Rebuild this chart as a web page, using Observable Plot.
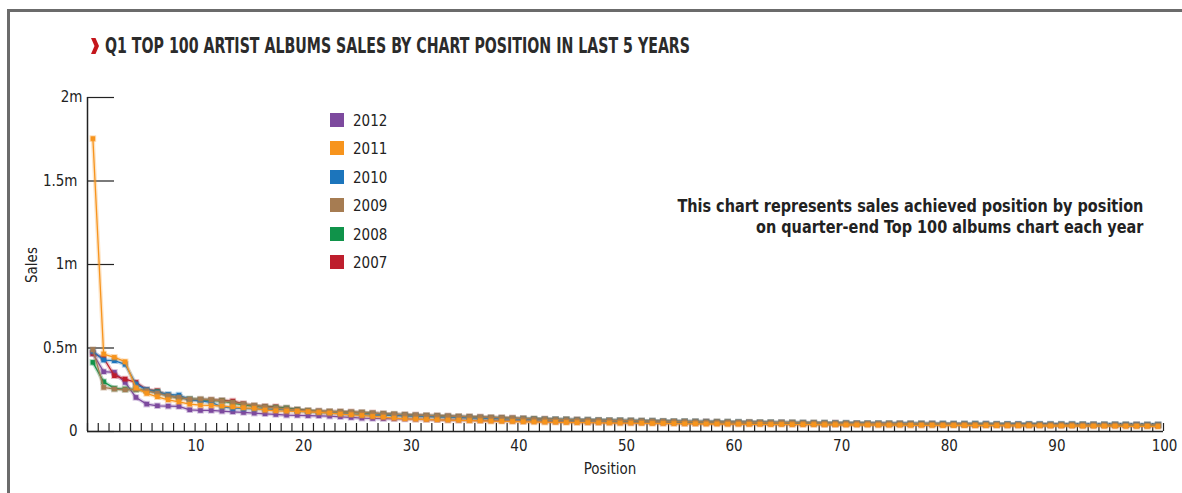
<!DOCTYPE html>
<html><head><meta charset="utf-8">
<script src="https://cdn.jsdelivr.net/npm/d3@7"></script>
<script src="https://cdn.jsdelivr.net/npm/@observablehq/plot@0.6"></script>
<style>
body{margin:0;background:#fff;width:1182px;height:493px;overflow:hidden;position:relative;font-family:"Liberation Sans Narrow","DejaVu Sans Condensed","Roboto Condensed",sans-serif;color:#222;}
#frame{position:absolute;left:7px;top:9px;width:1200px;height:520px;border-top:3px solid #6b6b6b;border-left:3px solid #6b6b6b;}
#chev{position:absolute;left:91px;top:38px;}
#title{position:absolute;left:105px;top:33px;font-weight:bold;font-size:22px;color:#2b2b2b;white-space:nowrap;transform-origin:0 50%;}
#chart{position:absolute;left:0;top:70px;}
#legend{position:absolute;left:330px;top:112px;font-size:15px;}
.row{height:28.4px;display:flex;align-items:flex-start;}
.sw{width:14px;height:14px;margin-right:9px;margin-top:1px;}
#note{position:absolute;right:39px;top:195px;text-align:right;font-weight:bold;font-size:18px;line-height:21px;color:#222;white-space:nowrap;transform-origin:100% 50%;}
#xlab{position:absolute;left:610px;top:460px;transform:translateX(-50%);font-size:15px;}
#ylab{position:absolute;left:32px;top:265px;transform:translate(-50%,-50%) rotate(-90deg);font-size:15px;}
</style></head>
<body>
<div id="frame"></div>
<svg id="chev" width="8" height="16" viewBox="0 0 8 16"><polygon points="0,0 4.5,0 8,8 4.5,16 0,16 3.5,8" fill="#c4161c"/></svg>
<div id="title">Q1 TOP 100 ARTIST ALBUMS SALES BY CHART POSITION IN LAST 5 YEARS</div>
<div id="chart"></div>
<div id="legend"></div>
<div id="note">This chart represents sales achieved position by position<br>on quarter-end Top 100 albums chart each year</div>
<div id="xlab">Position</div>
<div id="ylab">Sales</div>
<script>
// sales in thousands, positions 1..100
const years = ["2012","2011","2010","2009","2008","2007"];
const colors = ["#7d4a9e","#f7941d","#1c75bc","#a67c52","#10934a","#be1e2d"];
const drawOrder = ["2012","2007","2008","2010","2009","2011"];

const sales2011 = [1754,464,444,418,262,228,208,190,178,164,
158,156,152,148,142,138,128,124,122,120,
118,114,110,104,100,96,90,86,80,76,
74,72,70,68,67,65,64,62,61,60,
58,57,56,55,54,53,53,52,51,50,
50,49,48,48,47,46,46,45,45,44,
44,43,43,42,42,41,41,41,40,40,
39,39,39,38,38,38,37,37,37,36,
36,36,35,35,35,34,34,34,34,33,
33,33,32,32,32,32,31,31,31,30];
const sales2012 = [466,358,354,294,204,164,154,152,150,130,
126,126,122,118,114,110,106,102,98,97,
95,94,92,88,84,80,78,77,76,75,
74,72,70,69,68,67,66,65,64,63,
62,61,60,59,58,57,56,56,55,54,
53,53,52,51,51,50,50,49,49,48,
48,47,47,46,46,45,45,45,44,44,
43,43,43,42,42,42,41,41,41,40,
40,40,39,39,39,38,38,38,38,37,
37,37,37,36,36,36,36,35,35,35];
const sales2010 = [480,428,424,402,284,250,234,222,218,190,
184,174,148,140,138,136,134,132,128,124,
120,116,112,108,104,100,98,97,96,94,
92,90,88,86,84,82,80,78,76,75,
74,73,72,71,70,69,68,67,66,65,
64,63,62,61,60,60,59,58,57,56,
56,55,54,54,53,52,52,51,51,50,
50,49,49,49,48,48,48,47,47,47,
46,46,46,46,45,45,45,45,44,44,
44,44,43,43,43,43,42,42,42,42];
const sales2009 = [490,264,254,250,252,244,230,214,204,194,
194,190,184,174,164,156,148,142,136,128,
124,122,120,118,116,114,110,106,104,100,
98,96,94,92,90,88,86,84,82,80,
77,75,74,72,71,70,69,68,67,66,
65,64,63,62,61,60,59,58,58,57,
56,56,55,54,54,53,52,52,51,50,
50,49,49,48,48,47,47,46,46,45,
45,45,44,44,44,43,43,43,42,42,
42,42,41,41,41,41,40,40,40,40];
const sales2008 = [414,298,258,254,252,244,238,214,204,194,
190,186,184,170,160,152,146,144,140,130,
124,120,118,116,114,112,108,104,102,98,
96,94,92,90,88,86,84,82,80,78,
76,75,73,72,71,69,68,67,66,65,
64,63,62,61,60,59,58,57,57,56,
55,54,54,53,52,52,51,50,50,49,
49,48,48,47,47,46,46,46,45,45,
44,44,44,43,43,43,42,42,42,41,
41,41,41,40,40,40,40,39,39,39];
const sales2007 = [468,440,334,314,294,250,244,214,204,192,
190,188,186,182,166,154,150,148,140,132,
126,122,120,118,116,113,110,106,103,100,
98,96,94,92,90,88,86,84,82,80,
77,75,74,72,71,70,68,67,66,65,
64,63,62,61,60,59,58,58,57,56,
55,55,54,53,53,52,51,51,50,50,
49,49,48,48,47,47,46,46,46,45,
45,44,44,44,43,43,43,42,42,42,
41,41,41,41,40,40,40,40,39,39];

const yTicks = [0,500,1000,1500,2000];
const yTickLabels = ["0","0.5m","1m","1.5m","2m"];
const xTickMarks = d3.range(0,101);
const xLabels = [10,20,30,40,50,60,70,80,90,100];

const seriesByYear = {"2012":sales2012,"2011":sales2011,"2010":sales2010,"2009":sales2009,"2008":sales2008,"2007":sales2007};
const color = d3.scaleOrdinal(years, colors);

const W = 1182, H = 423, mL = 87, mR = 19, mT = 27, mB = 62;
const plotW = W - mL - mR, plotH = H - mT - mB;

const marks = [];
for (const yr of drawOrder) {
  const rows = seriesByYear[yr].map((v,i)=>({pos:i+1, v, year:yr}));
  const c = color(yr);
  marks.push(Plot.line(rows,{x:d=>d.pos-0.5,y:"v",stroke:c,strokeWidth:4,strokeOpacity:0.25}));
  marks.push(Plot.line(rows,{x:d=>d.pos-0.5,y:"v",stroke:c,strokeWidth:1.3}));
  marks.push(Plot.dot(rows,{x:d=>d.pos-0.5,y:"v",symbol:"square",r:2.6,fill:c,stroke:c,strokeOpacity:0.3,strokeWidth:2}));
}

const yLabel = d=>yTickLabels[yTicks.indexOf(d)];
const chart = Plot.plot({
  width: W, height: H,
  marginLeft: mL, marginRight: mR, marginTop: mT, marginBottom: mB,
  style: {fontFamily:'"Liberation Sans Narrow","DejaVu Sans Condensed",sans-serif', fontSize:"15px", color:"#222", background:"transparent"},
  x: {domain:[0,100]},
  y: {domain:[0,2000]},
  marks: [
    Plot.tickX(xTickMarks,{x:d=>d, insetTop: plotH-8, stroke:"#222", strokeWidth:1.2}),
    Plot.tickY(yTicks,{y:d=>d, insetRight: plotW-27, stroke:"#222", strokeWidth:1.2}),
    Plot.ruleX([0],{stroke:"#222", strokeWidth:1.5}),
    Plot.ruleY([0],{stroke:"#222", strokeWidth:1.5}),
    Plot.axisX({ticks:xLabels, tickSize:0, tickPadding:9, dx:1, tickFormat:d=>String(d), label:null, fontSize:15}),
    Plot.axisY({ticks:yTicks.slice(0,4), tickSize:0, tickPadding:10, tickFormat:yLabel, label:null, fontSize:15}),
    Plot.axisY({ticks:yTicks.slice(4), tickSize:0, tickPadding:5, tickFormat:yLabel, label:null, fontSize:15}),
    ...marks
  ]
});
document.getElementById("chart").appendChild(chart);

const legend = document.getElementById("legend");
for (const yr of years) {
  const row = document.createElement("div");
  row.className = "row";
  row.innerHTML = `<div class="sw" style="background:${color(yr)}"></div><span>${yr}</span>`;
  legend.appendChild(row);
}

// fit condensed text widths to the reference layout
function fitWidth(el, target) {
  const w = el.getBoundingClientRect().width;
  el.style.transform = `scaleX(${target / w})`;
}
fitWidth(document.getElementById("title"), 585);
fitWidth(document.getElementById("note"), 466);
</script>
</body></html>
